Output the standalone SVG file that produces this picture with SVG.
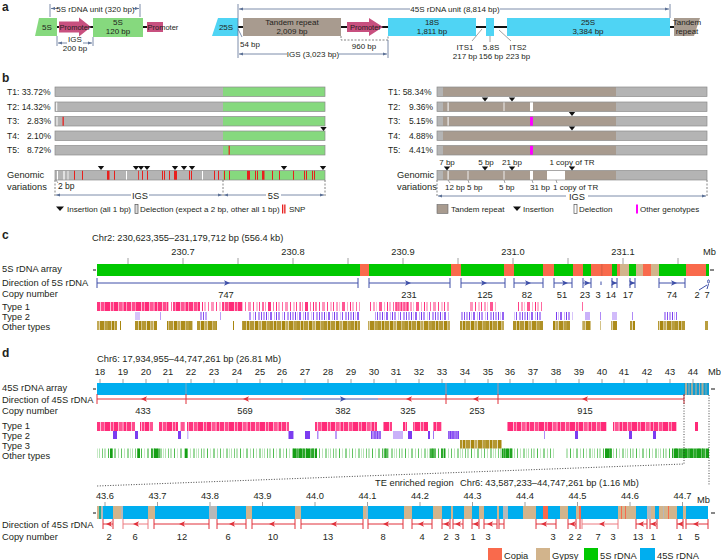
<svg xmlns="http://www.w3.org/2000/svg" width="721" height="560" viewBox="0 0 721 560">
<style>
text{font-family:"Liberation Sans",Arial,sans-serif;fill:#231f20}
.f9{font-size:9.3px}
.f85{font-size:8.5px}
.f8{font-size:8px}
.f75{font-size:7.5px}
.pl{font-size:12px;font-weight:bold}
.mid{text-anchor:middle}
.end{text-anchor:end}
.bk{stroke:#111;stroke-width:2}
.dim{stroke:#5b7095;stroke-width:0.8;fill:none}
.tk{stroke:#5b7095;stroke-width:0.8}
.dash{stroke:#666;stroke-width:0.8;stroke-dasharray:2,1.5;fill:none}
.dot{stroke:#333;stroke-width:0.9;stroke-dasharray:1,1.6;fill:none}
.bar{stroke:#8c8c8c;stroke-width:0.7}
.gray{fill:#b4b4b4}
.grn{fill:#86d97e}
.tr{fill:#a89b8f}
.cy{fill:#4fd4f4}
.pk{fill:#c8507f}
.snp{fill:#e8201e}
.wh{fill:#fff}
.mg{fill:#ff00ff}
.blu{stroke:#3e4fa8;stroke-width:1;fill:none}
.red{stroke:#e0303a;stroke-width:1;fill:none}
.ahb{fill:#3e4fa8}
.ahr{fill:#e0303a}
.c5{fill:#00c800}
.cop{fill:#f96a4c}
.gyp{fill:#d2b48c}
.c45{fill:#00aeef}
.gtk{stroke:#888;stroke-width:0.8}
</style>
<defs>
<marker id="ar" viewBox="0 0 6 6" refX="6" refY="3" markerWidth="5" markerHeight="5" orient="auto-start-reverse"><path d="M0,0.6 L6,3 L0,5.4 z" fill="#5b7095"/></marker>
<path id="tri" d="M-3.2,0 H3.2 L0,4 Z" fill="#111"/>
<path id="hr" d="M0,0 L-6,-2.8 L-4.5,0 L-6,2.8 Z"/>
<path id="hl" d="M0,0 L6,-2.8 L4.5,0 L6,2.8 Z"/>
<pattern id="pA" width="31" height="20" patternUnits="userSpaceOnUse"><g fill="#ff2a78"><rect width="2" height="20"/><rect x="2" width="1" height="20" fill-opacity=".45"/><rect x="3" width="4" height="20" fill-opacity=".95"/><rect x="7" width="1" height="20" fill-opacity=".3"/><rect x="8" width="3" height="20" fill-opacity=".85"/><rect x="11" width="1" height="20" fill-opacity=".55"/><rect x="12" width="5" height="20"/><rect x="17" width="1" height="20" fill-opacity=".3"/><rect x="18" width="2" height="20" fill-opacity=".9"/><rect x="20" width="1" height="20" fill-opacity=".5"/><rect x="21" width="4" height="20"/><rect x="25" width="1" height="20" fill-opacity=".35"/><rect x="26" width="3" height="20" fill-opacity=".8"/><rect x="29" width="2" height="20" fill-opacity=".6"/></g></pattern>
<pattern id="pB" width="37" height="20" patternUnits="userSpaceOnUse"><g fill="#ff2a78"><rect width="1" height="20" fill-opacity=".9"/><rect x="3" width="2" height="20" fill-opacity=".45"/><rect x="6" width="1" height="20" fill-opacity=".3"/><rect x="9" width="3" height="20" fill-opacity=".8"/><rect x="14" width="1" height="20" fill-opacity=".4"/><rect x="17" width="1" height="20"/><rect x="19" width="2" height="20" fill-opacity=".35"/><rect x="23" width="1" height="20" fill-opacity=".7"/><rect x="26" width="3" height="20" fill-opacity=".5"/><rect x="31" width="1" height="20" fill-opacity=".9"/><rect x="34" width="2" height="20" fill-opacity=".3"/></g></pattern>
<pattern id="uA" width="29" height="20" patternUnits="userSpaceOnUse"><g fill="#7b3cf0"><rect width="1" height="20" fill-opacity=".9"/><rect x="2" width="2" height="20" fill-opacity=".45"/><rect x="5" width="1" height="20"/><rect x="7" width="1" height="20" fill-opacity=".3"/><rect x="9" width="2" height="20" fill-opacity=".8"/><rect x="13" width="1" height="20" fill-opacity=".4"/><rect x="15" width="1" height="20"/><rect x="17" width="2" height="20" fill-opacity=".55"/><rect x="21" width="1" height="20" fill-opacity=".3"/><rect x="23" width="1" height="20" fill-opacity=".9"/><rect x="26" width="2" height="20" fill-opacity=".5"/></g></pattern>
<pattern id="uB" width="41" height="20" patternUnits="userSpaceOnUse"><g fill="#7b3cf0"><rect width="1" height="20" fill-opacity=".8"/><rect x="6" width="1" height="20" fill-opacity=".4"/><rect x="12" width="2" height="20" fill-opacity=".7"/><rect x="20" width="1" height="20" fill-opacity=".3"/><rect x="27" width="1" height="20" fill-opacity=".9"/><rect x="34" width="2" height="20" fill-opacity=".4"/></g></pattern>
<pattern id="oA" width="27" height="20" patternUnits="userSpaceOnUse"><g fill="#a8860f"><rect width="3" height="20" fill-opacity=".9"/><rect x="3" width="1" height="20" fill-opacity=".4"/><rect x="4" width="2" height="20"/><rect x="6" width="1" height="20" fill-opacity=".5"/><rect x="7" width="4" height="20" fill-opacity=".85"/><rect x="11" width="1" height="20" fill-opacity=".3"/><rect x="12" width="3" height="20"/><rect x="15" width="1" height="20" fill-opacity=".5"/><rect x="16" width="2" height="20" fill-opacity=".7"/><rect x="18" width="1" height="20" fill-opacity=".35"/><rect x="19" width="4" height="20" fill-opacity=".95"/><rect x="23" width="1" height="20" fill-opacity=".5"/><rect x="24" width="3" height="20" fill-opacity=".8"/></g></pattern>
<pattern id="gA" width="33" height="20" patternUnits="userSpaceOnUse"><g fill="#22aa22"><rect width="1" height="20" fill-opacity=".35"/><rect x="3" width="1" height="20" fill-opacity=".6"/><rect x="5" width="2" height="20" fill-opacity=".3"/><rect x="9" width="1" height="20" fill-opacity=".8"/><rect x="12" width="1" height="20" fill-opacity=".25"/><rect x="15" width="2" height="20" fill-opacity=".5"/><rect x="19" width="1" height="20" fill-opacity=".35"/><rect x="22" width="1" height="20" fill-opacity=".7"/><rect x="25" width="1" height="20" fill-opacity=".3"/><rect x="28" width="2" height="20" fill-opacity=".45"/><rect x="31" width="1" height="20" fill-opacity=".25"/></g></pattern>
<pattern id="gB" width="23" height="20" patternUnits="userSpaceOnUse"><g fill="#159f15"><rect width="3" height="20"/><rect x="3" width="1" height="20" fill-opacity=".5"/><rect x="4" width="2" height="20" fill-opacity=".9"/><rect x="6" width="1" height="20" fill-opacity=".4"/><rect x="7" width="4" height="20"/><rect x="11" width="1" height="20" fill-opacity=".6"/><rect x="12" width="3" height="20" fill-opacity=".85"/><rect x="15" width="1" height="20" fill-opacity=".3"/><rect x="16" width="4" height="20"/><rect x="20" width="3" height="20" fill-opacity=".7"/></g></pattern>
</defs>
<rect width="721" height="560" fill="#fff"/>

<!-- ============ PANEL A ============ -->
<g id="panel-a">
<text x="2" y="11" class="pl">a</text>
<g id="a-5s-unit">
<line x1="57" y1="27" x2="93" y2="27" class="bk"/>
<line x1="143" y1="27" x2="148" y2="27" class="bk"/>
<polygon points="39,18 57,18 57,36 35,36" class="grn"/>
<text x="47" y="30" class="f8 mid">5S</text>
<path d="M59,21.5 H79 V17.5 L91,27 L79,36.5 V32.5 H59 Z" class="pk"/>
<text x="59.5" y="30" class="f75">Promoter</text>
<rect x="93" y="18" width="50" height="19" class="grn"/>
<text x="118" y="25" class="f8 mid">5S</text>
<text x="118" y="33.5" class="f8 mid">120 bp</text>
<rect x="147" y="22" width="16" height="10" class="pk"/>
<text x="147.5" y="30" class="f75">Promoter</text>
<line x1="50" y1="4" x2="50" y2="17" class="tk"/>
<line x1="140" y1="4" x2="140" y2="17" class="tk"/>
<line x1="51" y1="8.5" x2="58" y2="8.5" class="dim" marker-start="url(#ar)"/>
<line x1="133" y1="8.5" x2="139" y2="8.5" class="dim" marker-end="url(#ar)"/>
<text x="95.5" y="11.5" class="f8 mid">5S rDNA unit (320 bp)</text>
<line x1="57" y1="36" x2="57" y2="46" class="tk"/>
<line x1="93" y1="37" x2="93" y2="46" class="tk"/>
<line x1="58" y1="43" x2="67" y2="43" class="dim" marker-start="url(#ar)"/>
<line x1="83" y1="43" x2="92" y2="43" class="dim" marker-end="url(#ar)"/>
<text x="75" y="42" class="f8 mid">IGS</text>
<text x="75" y="51" class="f8 mid">200 bp</text>
</g>
<g id="a-45s-unit">
<line x1="238" y1="27" x2="674" y2="27" class="bk"/>
<polygon points="218,18 238,18 238,36 212,36" class="cy"/>
<text x="226" y="30" class="f8 mid">25S</text>
<rect x="243" y="18" width="98" height="18" class="tr"/>
<text x="292" y="25" class="f8 mid">Tandem repeat</text>
<text x="292" y="33.5" class="f8 mid">2,009 bp</text>
<path d="M347,22 H369 V18 L383,27 L369,36 V32 H347 Z" class="pk"/>
<text x="350" y="30" class="f75">Promoter</text>
<rect x="388" y="18" width="88" height="18" class="cy"/>
<text x="432" y="25" class="f8 mid">18S</text>
<text x="432" y="33.5" class="f8 mid">1,811 bp</text>
<rect x="486" y="18" width="8" height="18" class="cy"/>
<rect x="507" y="18" width="163" height="18" class="cy"/>
<text x="588" y="25" class="f8 mid">25S</text>
<text x="588" y="33.5" class="f8 mid">3,384 bp</text>
<polygon points="674,18 700,18 694,36 674,36" class="tr"/>
<text x="687" y="25" class="f8 mid">Tandem</text>
<text x="687" y="33.5" class="f8 mid">repeat</text>
<line x1="238" y1="4" x2="238" y2="58" class="tk"/>
<line x1="670" y1="4" x2="670" y2="18" class="tk"/>
<line x1="239" y1="9" x2="410" y2="9" class="dim" marker-start="url(#ar)"/>
<line x1="500" y1="9" x2="669" y2="9" class="dim" marker-end="url(#ar)"/>
<text x="455" y="12" class="f8 mid">45S rDNA unit (8,814 bp)</text>
<line x1="238" y1="29" x2="242" y2="37" class="tk"/>
<text x="240" y="47" class="f8">54 bp</text>
<path d="M341,36 V40 H388 V36" class="dash"/>
<text x="364" y="49" class="f8 mid">960 bp</text>
<line x1="388" y1="40" x2="388" y2="58" class="tk"/>
<line x1="239" y1="54" x2="287" y2="54" class="dim" marker-start="url(#ar)"/>
<line x1="339" y1="54" x2="387" y2="54" class="dim" marker-end="url(#ar)"/>
<text x="313" y="57" class="f8 mid">IGS (3,023 bp)</text>
<line x1="482" y1="29" x2="472" y2="41" class="gtk"/>
<line x1="490" y1="36" x2="490" y2="42" class="gtk"/>
<line x1="499" y1="30" x2="511" y2="41" class="gtk"/>
<text x="465" y="50" class="f8 mid">ITS1</text>
<text x="465" y="59" class="f8 mid">217 bp</text>
<text x="491" y="50" class="f8 mid">5.8S</text>
<text x="491" y="59" class="f8 mid">156 bp</text>
<text x="518" y="50" class="f8 mid">ITS2</text>
<text x="518" y="59" class="f8 mid">223 bp</text>
</g>
</g>

<!-- ============ PANEL B ============ -->
<g id="panel-b">
<text x="2" y="82" class="pl">b</text>
<g id="b-left">
<g id="b-T1"><rect x="55" y="87" width="168" height="9.5" class="gray"/><rect x="223" y="87" width="102" height="9.5" class="grn"/><rect x="55" y="87" width="270" height="9.5" fill="none" class="bar"/>
<text x="7" y="94.5" class="f85">T1: 33.72%</text></g>
<g id="b-T2"><rect x="55" y="102" width="168" height="9.5" class="gray"/><rect x="223" y="102" width="102" height="9.5" class="grn"/><rect x="56.2" y="102" width="1" height="9.5" class="wh"/><rect x="55" y="102" width="270" height="9.5" fill="none" class="bar"/>
<text x="7" y="109.5" class="f85">T2: 14.32%</text></g>
<g id="b-T3"><rect x="55" y="116.5" width="168" height="9.5" class="gray"/><rect x="223" y="116.5" width="102" height="9.5" class="grn"/><rect x="56.5" y="116.5" width="1" height="9.5" class="wh"/><rect x="62.5" y="116.5" width="1.3" height="9.5" class="snp"/><rect x="55" y="116.5" width="270" height="9.5" fill="none" class="bar"/>
<text x="7" y="124" class="f85">T3:</text><text x="51" y="124" class="f85 end">2.83%</text></g>
<g id="b-T4"><rect x="55" y="131" width="168" height="9.5" class="gray"/><rect x="223" y="131" width="102" height="9.5" class="grn"/><rect x="55" y="131" width="270" height="9.5" fill="none" class="bar"/>
<use href="#tri" x="323.5" y="127"/>
<text x="7" y="138.5" class="f85">T4:</text><text x="51" y="138.5" class="f85 end">2.10%</text></g>
<g id="b-T5"><rect x="55" y="145.5" width="168" height="9.5" class="gray"/><rect x="223" y="145.5" width="102" height="9.5" class="grn"/><rect x="228.5" y="145.5" width="1.5" height="9.5" fill="#d6452a"/><rect x="55" y="145.5" width="270" height="9.5" fill="none" class="bar"/>
<text x="7" y="153" class="f85">T5:</text><text x="51" y="153" class="f85 end">8.72%</text></g>
<g id="b-gv-left">
<rect x="55" y="170.5" width="168" height="9.5" class="gray"/><rect x="223" y="170.5" width="102" height="9.5" class="grn"/>
<g class="wh"><rect x="57" y="170.5" width="1" height="9.5"/><rect x="63" y="170.5" width="2" height="9.5" fill-opacity=".6"/><rect x="67.5" y="170.5" width="1" height="9.5" fill-opacity=".8"/><rect x="126" y="170.5" width="1" height="9.5"/><rect x="202" y="170.5" width="1" height="9.5"/></g>
<g class="snp"><rect x="74" y="170.5" width="1" height="9.5"/><rect x="82" y="170.5" width="1" height="9.5"/><rect x="107" y="170.5" width="2.5" height="9.5"/><rect x="114" y="170.5" width="1" height="9.5"/><rect x="138" y="170.5" width="0.8" height="9.5"/><rect x="142" y="170.5" width="1" height="9.5"/><rect x="147" y="170.5" width="1" height="9.5"/><rect x="162" y="170.5" width="1" height="9.5"/><rect x="164" y="170.5" width="1" height="9.5"/><rect x="169" y="170.5" width="1" height="9.5"/><rect x="174" y="170.5" width="3" height="9.5"/><rect x="189" y="170.5" width="1" height="9.5"/><rect x="191" y="170.5" width="1" height="9.5"/><rect x="214" y="170.5" width="1" height="9.5"/><rect x="218" y="170.5" width="1" height="9.5"/><rect x="224" y="170.5" width="1" height="9.5"/><rect x="229" y="170.5" width="1" height="9.5"/><rect x="247" y="170.5" width="3" height="9.5"/><rect x="255" y="170.5" width="1" height="9.5"/><rect x="257" y="170.5" width="1" height="9.5"/><rect x="262" y="170.5" width="2.5" height="9.5"/><rect x="272" y="170.5" width="1" height="9.5"/><rect x="279" y="170.5" width="1" height="9.5"/><rect x="293" y="170.5" width="1" height="9.5"/><rect x="304" y="170.5" width="1" height="9.5"/><rect x="306" y="170.5" width="1" height="9.5"/><rect x="312" y="170.5" width="1" height="9.5"/><rect x="314" y="170.5" width="1" height="9.5"/></g>
<rect x="55" y="170.5" width="270" height="9.5" fill="none" class="bar"/>
<use href="#tri" x="101" y="166"/><use href="#tri" x="136" y="166"/><use href="#tri" x="141" y="166"/><use href="#tri" x="147" y="166"/><use href="#tri" x="175" y="166"/><use href="#tri" x="184" y="166"/><use href="#tri" x="192" y="166"/><use href="#tri" x="284" y="166"/><use href="#tri" x="323" y="166"/>
<text x="7" y="177.5" class="f9">Genomic</text>
<text x="7" y="189.5" class="f9">variations</text>
<line x1="56" y1="180" x2="58" y2="183" class="gtk"/>
<text x="58" y="189" class="f85">2 bp</text>
<line x1="55" y1="180" x2="55" y2="197" class="dash"/>
<line x1="223" y1="180" x2="223" y2="197" class="dash"/>
<line x1="325" y1="180" x2="325" y2="197" class="dash"/>
<line x1="56" y1="195" x2="131" y2="195" class="dim" marker-start="url(#ar)"/>
<line x1="149" y1="195" x2="222" y2="195" class="dim" marker-end="url(#ar)"/>
<text x="140" y="198.5" class="f9 mid">IGS</text>
<line x1="224" y1="195" x2="266" y2="195" class="dim" marker-start="url(#ar)"/>
<line x1="281" y1="195" x2="324" y2="195" class="dim" marker-end="url(#ar)"/>
<text x="273.5" y="198.5" class="f9 mid">5S</text>
</g>
<g id="b-legend-left">
<path d="M56,206.5 H64 L60,211 Z" fill="#111"/>
<text x="67" y="212" class="f8">Insertion (all 1 bp)</text>
<rect x="135" y="204.5" width="3" height="9" fill="#ddd" stroke="#555" stroke-width="0.7"/>
<text x="140" y="212" class="f8">Delection (expect a 2 bp, other all 1 bp)</text>
<rect x="282" y="204.5" width="1.3" height="9" class="snp"/><rect x="284.2" y="204.5" width="1.3" height="9" class="snp"/>
<text x="289" y="212" class="f8">SNP</text>
</g>
</g>
<g id="b-right">
<g id="b-R1"><rect x="437" y="87" width="6" height="9.5" class="gray"/><rect x="443" y="87" width="173" height="9.5" class="tr"/><rect x="616" y="87" width="91" height="9.5" class="gray"/><rect x="437" y="87" width="270" height="9.5" fill="none" class="bar"/>
<text x="388" y="94.5" class="f85">T1: 58.34%</text></g>
<g id="b-R2"><rect x="437" y="102" width="6" height="9.5" class="gray"/><rect x="443" y="102" width="173" height="9.5" class="tr"/><rect x="616" y="102" width="91" height="9.5" class="gray"/><rect x="447.5" y="102" width="1.2" height="9.5" fill="#eee"/><rect x="503.5" y="102" width="1" height="9.5" fill="#eee"/><rect x="530" y="102" width="3" height="9.5" class="wh"/><rect x="437" y="102" width="270" height="9.5" fill="none" class="bar"/>
<use href="#tri" x="485" y="97.5"/><use href="#tri" x="512" y="97.5"/>
<text x="388" y="109.5" class="f85">T2:</text><text x="433" y="109.5" class="f85 end">9.36%</text></g>
<g id="b-R3"><rect x="437" y="116.5" width="6" height="9.5" class="gray"/><rect x="443" y="116.5" width="173" height="9.5" class="tr"/><rect x="616" y="116.5" width="91" height="9.5" class="gray"/><rect x="447.5" y="116.5" width="1.2" height="9.5" fill="#eee"/><rect x="530" y="116.5" width="3" height="9.5" class="mg"/><rect x="437" y="116.5" width="270" height="9.5" fill="none" class="bar"/>
<use href="#tri" x="572" y="112"/>
<text x="388" y="124" class="f85">T3:</text><text x="433" y="124" class="f85 end">5.15%</text></g>
<g id="b-R4"><rect x="437" y="131" width="6" height="9.5" class="gray"/><rect x="443" y="131" width="173" height="9.5" class="tr"/><rect x="616" y="131" width="91" height="9.5" class="gray"/><rect x="437" y="131" width="270" height="9.5" fill="none" class="bar"/>
<use href="#tri" x="572" y="126.5"/>
<text x="388" y="138.5" class="f85">T4:</text><text x="433" y="138.5" class="f85 end">4.88%</text></g>
<g id="b-R5"><rect x="437" y="145.5" width="6" height="9.5" class="gray"/><rect x="443" y="145.5" width="173" height="9.5" class="tr"/><rect x="616" y="145.5" width="91" height="9.5" class="gray"/><rect x="530" y="145.5" width="3" height="9.5" class="mg"/><rect x="437" y="145.5" width="270" height="9.5" fill="none" class="bar"/>
<text x="388" y="153" class="f85">T5:</text><text x="433" y="153" class="f85 end">4.41%</text></g>
<g id="b-gv-right">
<rect x="437" y="170.5" width="6" height="9.5" class="gray"/><rect x="443" y="170.5" width="173" height="9.5" class="tr"/><rect x="616" y="170.5" width="91" height="9.5" class="gray"/>
<rect x="447.5" y="170.5" width="1.2" height="9.5" fill="#eee"/><rect x="467.5" y="170.5" width="1" height="9.5" fill="#eee"/><rect x="503.5" y="170.5" width="1" height="9.5" fill="#eee"/><rect x="530" y="170.5" width="3" height="9.5" class="wh"/><rect x="547" y="170.5" width="18" height="9.5" class="wh"/>
<rect x="437" y="170.5" width="270" height="9.5" fill="none" class="bar"/>
<use href="#tri" x="447" y="166.5"/><use href="#tri" x="485" y="166.5"/><use href="#tri" x="512" y="166.5"/><use href="#tri" x="572" y="166.5"/>
<text x="447" y="165" class="f8 mid">7 bp</text>
<text x="486" y="165" class="f8 mid">5 bp</text>
<text x="512" y="165" class="f8 mid">21 bp</text>
<text x="572" y="165" class="f8 mid">1 copy of TR</text>
<g class="gtk"><line x1="448" y1="180" x2="450" y2="183"/><line x1="468" y1="180" x2="469" y2="183"/><line x1="504" y1="180" x2="505" y2="183"/><line x1="532" y1="180" x2="533" y2="183"/><line x1="556" y1="180" x2="557" y2="183"/></g>
<text x="445" y="190" class="f8">12 bp</text>
<text x="467" y="190" class="f8">5 bp</text>
<text x="499" y="190" class="f8">5 bp</text>
<text x="530" y="190" class="f8">31 bp</text>
<text x="553" y="190" class="f8">1 copy of TR</text>
<text x="397" y="177.5" class="f9">Genomic</text>
<text x="397" y="189.5" class="f9">variations</text>
<line x1="437" y1="180" x2="437" y2="197" class="dash"/>
<line x1="707" y1="180" x2="707" y2="197" class="dash"/>
<line x1="438" y1="196" x2="566" y2="196" class="dim" marker-start="url(#ar)"/>
<line x1="588" y1="196" x2="706" y2="196" class="dim" marker-end="url(#ar)"/>
<text x="577" y="199.5" class="f9 mid">IGS</text>
</g>
<g id="b-legend-right">
<rect x="437" y="204.5" width="11" height="9" class="tr" stroke="#666" stroke-width="0.6"/>
<text x="451" y="212" class="f8">Tandem repeat</text>
<path d="M513,206.5 H521 L517,211 Z" fill="#111"/>
<text x="523" y="212" class="f8">Insertion</text>
<rect x="574" y="204.5" width="3" height="9" fill="#fff" stroke="#555" stroke-width="0.7"/>
<text x="579" y="212" class="f8">Delection</text>
<rect x="636" y="204.5" width="2" height="9" class="mg"/>
<text x="640" y="212" class="f8">Other genotypes</text>
</g>
</g>
</g>

<!-- ============ PANEL C ============ -->
<g id="panel-c">
<text x="2" y="239" class="pl">c</text>
<text x="92" y="240.5" class="f9">Chr2: 230,623,355–231,179,712 bp (556.4 kb)</text>
<g id="c-axis">
<g class="gtk"><line x1="128" y1="258" x2="128" y2="264"/><line x1="183" y1="258" x2="183" y2="264"/><line x1="238" y1="258" x2="238" y2="264"/><line x1="293" y1="258" x2="293" y2="264"/><line x1="348" y1="258" x2="348" y2="264"/><line x1="403" y1="258" x2="403" y2="264"/><line x1="458" y1="258" x2="458" y2="264"/><line x1="513" y1="258" x2="513" y2="264"/><line x1="568" y1="258" x2="568" y2="264"/><line x1="623" y1="258" x2="623" y2="264"/><line x1="678" y1="258" x2="678" y2="264"/></g>
<text x="183" y="255" class="f9 mid">230.7</text>
<text x="293" y="255" class="f9 mid">230.8</text>
<text x="403" y="255" class="f9 mid">230.9</text>
<text x="513" y="255" class="f9 mid">231.0</text>
<text x="623" y="255" class="f9 mid">231.1</text>
<text x="703" y="255" class="f9">Mb</text>
</g>
<g id="c-array">
<line x1="93" y1="270" x2="96" y2="270" stroke="#111" stroke-width="1"/>
<line x1="710" y1="270" x2="714" y2="270" stroke="#111" stroke-width="1"/>
<rect x="97" y="264" width="612" height="12" class="c5"/>
<rect x="360" y="264" width="9" height="12" class="cop"/>
<rect x="451" y="264" width="10" height="12" class="cop"/>
<rect x="504" y="264" width="10" height="12" class="cop"/>
<rect x="543" y="264" width="11" height="12" class="cop"/>
<rect x="573" y="264" width="10" height="12" class="cop"/>
<rect x="591" y="264" width="21" height="12" class="cop"/>
<rect x="601.5" y="264" width="0.8" height="12" fill="#c85a40"/>
<rect x="617" y="264" width="3" height="12" class="cop"/>
<rect x="620" y="264" width="9" height="12" class="gyp"/>
<rect x="636" y="264" width="7" height="12" class="gyp"/>
<rect x="643" y="264" width="8" height="12" class="cop"/>
<rect x="651" y="264" width="8" height="12" class="gyp"/>
<rect x="686" y="264" width="20" height="12" class="cop"/>
<text x="2" y="272" class="f9">5S rDNA array</text>
</g>
<g id="c-direction">
<text x="2" y="286" class="f9">Direction of 5S rDNA</text>
<g class="blu">
<line x1="97" y1="283" x2="358" y2="283"/><line x1="97" y1="278" x2="97" y2="288"/><line x1="358" y1="278" x2="358" y2="288"/>
<line x1="369" y1="283" x2="450" y2="283"/><line x1="369" y1="278" x2="369" y2="288"/><line x1="450" y1="278" x2="450" y2="288"/>
<line x1="461" y1="283" x2="505" y2="283"/><line x1="461" y1="278" x2="461" y2="288"/><line x1="505" y1="278" x2="505" y2="288"/>
<line x1="514" y1="283" x2="543" y2="283"/><line x1="514" y1="278" x2="514" y2="288"/><line x1="543" y1="278" x2="543" y2="288"/>
<line x1="554" y1="283" x2="572" y2="283"/><line x1="554" y1="278" x2="554" y2="288"/><line x1="572" y1="278" x2="572" y2="288"/>
<line x1="583" y1="283" x2="591" y2="283"/><line x1="583" y1="278" x2="583" y2="288"/><line x1="591" y1="278" x2="591" y2="288"/>
<line x1="601" y1="281.5" x2="601" y2="285"/>
<line x1="612" y1="283" x2="617" y2="283"/><line x1="612" y1="278" x2="612" y2="288"/><line x1="617" y1="278" x2="617" y2="288"/>
<line x1="630" y1="283" x2="635" y2="283"/><line x1="630" y1="278" x2="630" y2="288"/><line x1="635" y1="278" x2="635" y2="288"/>
<line x1="659" y1="283" x2="685" y2="283"/><line x1="659" y1="278" x2="659" y2="288"/><line x1="685" y1="278" x2="685" y2="288"/>
<line x1="699" y1="290" x2="707" y2="285"/>
<line x1="707" y1="289" x2="708.5" y2="284"/>
<ellipse cx="708.5" cy="281.5" rx="0.9" ry="1.6"/>
</g>
<g class="ahb"><use href="#hr" x="230" y="283"/><use href="#hr" x="411" y="283"/><use href="#hr" x="487" y="283"/><use href="#hr" x="531" y="283"/><use href="#hr" x="568" y="283"/><use href="#hr" x="590" y="283"/><use href="#hr" x="617" y="283"/><use href="#hr" x="635" y="283"/><use href="#hr" x="677" y="283"/></g>
</g>
<g id="c-copy">
<text x="2" y="297" class="f9">Copy number</text>
<text x="226" y="297.5" class="f9 mid">747</text>
<text x="409" y="297.5" class="f9 mid">231</text>
<text x="485" y="297.5" class="f9 mid">125</text>
<text x="527" y="297.5" class="f9 mid">82</text>
<text x="562" y="297.5" class="f9 mid">51</text>
<text x="585" y="297.5" class="f9 mid">23</text>
<text x="598" y="297.5" class="f9 mid">3</text>
<text x="611" y="297.5" class="f9 mid">14</text>
<text x="628" y="297.5" class="f9 mid">17</text>
<text x="672" y="297.5" class="f9 mid">74</text>
<text x="697" y="297.5" class="f9 mid">2</text>
<text x="707" y="297.5" class="f9 mid">7</text>
</g>
<g id="c-types">
<text x="2" y="309.5" class="f9">Type 1</text>
<text x="2" y="319.5" class="f9">Type 2</text>
<text x="2" y="330" class="f9">Other types</text>
<g>
<rect x="97" y="302" width="71" height="9" fill="url(#pA)"/>
<rect x="168" y="302" width="5" height="9" fill="url(#pB)"/>
<rect x="173" y="302" width="27" height="9" fill="url(#pA)"/>
<rect x="200" y="302" width="23" height="9" fill="url(#pB)"/>
<rect x="223" y="302" width="20" height="9" fill="url(#pA)"/>
<rect x="243" y="302" width="117" height="9" fill="url(#pB)"/>
<rect x="260" y="302" width="14" height="9" fill="url(#pB)"/>
<rect x="300" y="302" width="20" height="9" fill="url(#pB)"/>
<rect x="369" y="302" width="81" height="9" fill="url(#pB)"/>
<rect x="395" y="302" width="14" height="9" fill="url(#pA)" opacity=".7"/>
<rect x="470" y="302" width="27" height="9" fill="url(#pB)"/>
<rect x="517" y="302" width="26" height="9" fill="url(#pB)"/>
<rect x="582" y="302" width="1" height="9" fill="#ff2a78" fill-opacity=".7"/>
</g>
<g>
<rect x="135" y="312" width="5" height="8" fill="#7b3cf0" fill-opacity=".3"/>
<rect x="160" y="312" width="1" height="8" fill="#7b3cf0" fill-opacity=".5"/>
<rect x="199" y="312" width="9" height="8" fill="url(#uA)"/>
<rect x="220" y="312" width="3" height="8" fill="url(#uB)"/>
<rect x="220" y="312" width="1" height="8" fill="#7b3cf0" fill-opacity=".5"/>
<rect x="248" y="312" width="112" height="8" fill="url(#uA)"/>
<rect x="375" y="312" width="75" height="8" fill="url(#uA)"/>
<rect x="460" y="312" width="45" height="8" fill="url(#uA)"/>
<rect x="514" y="312" width="29" height="8" fill="url(#uA)"/>
<rect x="555" y="312" width="18" height="8" fill="url(#uA)"/>
<rect x="585" y="312" width="5" height="8" fill="#7b3cf0" fill-opacity=".4"/>
<rect x="600" y="312" width="1" height="8" fill="#7b3cf0" fill-opacity=".6"/>
<rect x="612" y="312" width="5" height="8" fill="#7b3cf0" fill-opacity=".35"/>
<rect x="632" y="312" width="1" height="8" fill="#7b3cf0" fill-opacity=".6"/>
<rect x="663" y="312" width="14" height="8" fill="url(#uA)"/>
</g>
<g>
<rect x="97" y="321" width="20" height="9" fill="url(#oA)"/>
<rect x="120" y="321" width="1" height="9" fill="#a8860f"/>
<rect x="135" y="321" width="22" height="9" fill="url(#oA)"/>
<rect x="167" y="321" width="26" height="9" fill="url(#oA)"/>
<rect x="197" y="321" width="20" height="9" fill="url(#oA)"/>
<rect x="233" y="321" width="1" height="9" fill="#a8860f"/>
<rect x="242" y="321" width="118" height="9" fill="url(#oA)"/>
<rect x="368" y="321" width="82" height="9" fill="url(#oA)"/>
<rect x="460" y="321" width="44" height="9" fill="url(#oA)"/>
<rect x="513" y="321" width="30" height="9" fill="url(#oA)"/>
<rect x="553" y="321" width="17" height="9" fill="url(#oA)"/>
<rect x="582" y="321" width="9" height="9" fill="url(#oA)"/>
<rect x="600" y="321" width="1" height="9" fill="#a8860f" fill-opacity=".5"/>
<rect x="611" y="321" width="6" height="9" fill="url(#oA)"/>
<rect x="630" y="321" width="5" height="9" fill="url(#oA)"/>
<rect x="658" y="321" width="27" height="9" fill="url(#oA)"/>
<rect x="705" y="321" width="3" height="9" fill="#a8860f" fill-opacity=".8"/>
</g>
</g>
</g>

<!-- ============ PANEL D ============ -->
<g id="panel-d">
<text x="2" y="357" class="pl">d</text>
<text x="97" y="361.5" class="f9">Chr6: 17,934,955–44,747,261 bp  (26.81 Mb)</text>
<g id="d-axis">
<g class="gtk"><line x1="100" y1="379" x2="100" y2="383"/><line x1="123" y1="379" x2="123" y2="383"/><line x1="146" y1="379" x2="146" y2="383"/><line x1="168" y1="379" x2="168" y2="383"/><line x1="191" y1="379" x2="191" y2="383"/><line x1="214" y1="379" x2="214" y2="383"/><line x1="237" y1="379" x2="237" y2="383"/><line x1="260" y1="379" x2="260" y2="383"/><line x1="282" y1="379" x2="282" y2="383"/><line x1="305" y1="379" x2="305" y2="383"/><line x1="328" y1="379" x2="328" y2="383"/><line x1="351" y1="379" x2="351" y2="383"/><line x1="374" y1="379" x2="374" y2="383"/><line x1="396" y1="379" x2="396" y2="383"/><line x1="419" y1="379" x2="419" y2="383"/><line x1="442" y1="379" x2="442" y2="383"/><line x1="465" y1="379" x2="465" y2="383"/><line x1="488" y1="379" x2="488" y2="383"/><line x1="510" y1="379" x2="510" y2="383"/><line x1="533" y1="379" x2="533" y2="383"/><line x1="556" y1="379" x2="556" y2="383"/><line x1="579" y1="379" x2="579" y2="383"/><line x1="602" y1="379" x2="602" y2="383"/><line x1="624" y1="379" x2="624" y2="383"/><line x1="647" y1="379" x2="647" y2="383"/><line x1="670" y1="379" x2="670" y2="383"/><line x1="693" y1="379" x2="693" y2="383"/></g>
<g class="f9 mid">
<text x="100" y="375">18</text><text x="123" y="375">19</text><text x="146" y="375">20</text><text x="168" y="375">21</text><text x="191" y="375">22</text><text x="214" y="375">23</text><text x="237" y="375">24</text><text x="260" y="375">25</text><text x="282" y="375">26</text><text x="305" y="375">27</text><text x="328" y="375">28</text><text x="351" y="375">29</text><text x="374" y="375">30</text><text x="396" y="375">31</text><text x="419" y="375">32</text><text x="442" y="375">33</text><text x="465" y="375">34</text><text x="488" y="375">35</text><text x="510" y="375">36</text><text x="533" y="375">37</text><text x="556" y="375">38</text><text x="579" y="375">39</text><text x="602" y="375">40</text><text x="624" y="375">41</text><text x="647" y="375">42</text><text x="670" y="375">43</text><text x="693" y="375">44</text>
</g>
<text x="708" y="375" class="f9">Mb</text>
</g>
<g id="d-array">
<text x="2" y="390.5" class="f9">45S rDNA array</text>
<line x1="93" y1="389" x2="96" y2="389" stroke="#111" stroke-width="1"/>
<line x1="711" y1="389" x2="715" y2="389" stroke="#111" stroke-width="1"/>
<rect x="97" y="383" width="612" height="12" class="c45"/>
<rect x="684" y="383" width="25" height="12" fill="#2a7fa0" fill-opacity=".35"/>
<g><rect x="685" y="383" width="2" height="12" class="gyp" opacity=".8"/><rect x="688.5" y="383" width="1" height="12" fill="#aaa"/><rect x="691" y="383" width="2" height="12" class="gyp" opacity=".7"/><rect x="695.5" y="383" width="1" height="12" class="gyp"/><rect x="699" y="383" width="1" height="12" fill="#aaa"/><rect x="701.5" y="383" width="2" height="12" class="gyp" opacity=".8"/><rect x="705.5" y="383" width="1" height="12" fill="#8aa"/></g>
<line x1="186" y1="383" x2="186" y2="395" stroke="#9ab" stroke-width="0.8"/>
<line x1="446" y1="383" x2="446" y2="395" stroke="#e88" stroke-width="0.8"/>
<line x1="498" y1="383" x2="498" y2="395" stroke="#e88" stroke-width="0.8"/>
</g>
<g id="d-direction">
<text x="2" y="402.5" class="f9">Direction of 45S rDNA</text>
<line x1="97" y1="399" x2="302" y2="399" class="red"/>
<line x1="302" y1="399" x2="378" y2="399" class="blu"/>
<line x1="378" y1="399" x2="684" y2="399" class="red"/>
<g class="red"><line x1="97" y1="394" x2="97" y2="404"/><line x1="186" y1="394" x2="186" y2="404"/><line x1="446" y1="394" x2="446" y2="404"/><line x1="498" y1="394" x2="498" y2="404"/><line x1="684" y1="394" x2="684" y2="404"/></g>
<g class="ahr"><use href="#hl" x="141" y="399"/><use href="#hl" x="243" y="399"/><use href="#hl" x="406" y="399"/><use href="#hl" x="473" y="399"/><use href="#hl" x="582" y="399"/></g>
<use href="#hr" x="346" y="399" class="ahb"/>
</g>
<g id="d-copy">
<text x="2" y="414" class="f9">Copy number</text>
<text x="143" y="414" class="f9 mid">433</text>
<text x="245" y="414" class="f9 mid">569</text>
<text x="343" y="414" class="f9 mid">382</text>
<text x="408" y="414" class="f9 mid">325</text>
<text x="477" y="414" class="f9 mid">253</text>
<text x="585" y="414" class="f9 mid">915</text>
</g>
<g id="d-types">
<text x="2" y="428.5" class="f9">Type 1</text>
<text x="2" y="438.5" class="f9">Type 2</text>
<text x="2" y="448.5" class="f9">Type 3</text>
<text x="2" y="458.5" class="f9">Other types</text>
<g fill="url(#pA)">
<rect x="97" y="422" width="38" height="9"/><rect x="140" y="422" width="13" height="9"/><rect x="159" y="422" width="19" height="9"/><rect x="180" y="422" width="5" height="9"/><rect x="187" y="422" width="102" height="9"/><rect x="315" y="422" width="62" height="9"/><rect x="383" y="422" width="9" height="9"/><rect x="403" y="422" width="4" height="9"/><rect x="413" y="422" width="15" height="9"/><rect x="433" y="422" width="9" height="9"/><rect x="507" y="422" width="100" height="9"/><rect x="613" y="422" width="64" height="9"/><rect x="695" y="422" width="3" height="9"/>
</g>
<g fill="#7b3cf0">
<rect x="113" y="431" width="4" height="8"/><rect x="135" y="431" width="3" height="8"/><rect x="178" y="431" width="3" height="8"/><rect x="187" y="431" width="1.5" height="8" fill-opacity=".35"/><rect x="288" y="431" width="6" height="8" fill="url(#uA)"/><rect x="289" y="431" width="4" height="8"/><rect x="305" y="431" width="5" height="8"/><rect x="317" y="431" width="1.5" height="8" fill-opacity=".6"/><rect x="335" y="431" width="2" height="8" fill-opacity=".5"/><rect x="370" y="431" width="12" height="8" fill="url(#uA)"/><rect x="371" y="431" width="10" height="8" fill-opacity=".6"/><rect x="393" y="431" width="10" height="8" fill-opacity=".4"/><rect x="408" y="431" width="4" height="8"/><rect x="428" y="431" width="2" height="8"/><rect x="433" y="431" width="1" height="8" fill-opacity=".7"/><rect x="447" y="431" width="13" height="8" fill="url(#uA)"/><rect x="448" y="431" width="11" height="8" fill-opacity=".7"/><rect x="544" y="431" width="1" height="8" fill-opacity=".6"/><rect x="575" y="431" width="3" height="8"/><rect x="629" y="431" width="3" height="8"/><rect x="653" y="431" width="3" height="8"/>
</g>
<rect x="460" y="440" width="42" height="8.5" fill="url(#oA)"/>
<g>
<rect x="97" y="448.5" width="458" height="9.5" fill="url(#gA)"/>
<rect x="565" y="448.5" width="144" height="9.5" fill="url(#gA)"/>
<rect x="110" y="448.5" width="3" height="9.5" fill="url(#gB)"/>
<rect x="137" y="448.5" width="3" height="9.5" fill="url(#gB)"/>
<rect x="151" y="448.5" width="9" height="9.5" fill="url(#gB)"/>
<rect x="185" y="448.5" width="2" height="9.5" fill="#159f15"/>
<rect x="293" y="448.5" width="24" height="9.5" fill="url(#gB)"/>
<rect x="382" y="448.5" width="6" height="9.5" fill="url(#gB)" opacity=".7"/>
<rect x="430" y="448.5" width="6" height="9.5" fill="url(#gB)" opacity=".8"/>
<rect x="441" y="448.5" width="4" height="9.5" fill="url(#gB)"/>
<rect x="502" y="448.5" width="11" height="9.5" fill="url(#gB)"/>
<rect x="605" y="448.5" width="7" height="9.5" fill="url(#gB)"/>
<rect x="672" y="448.5" width="37" height="9.5" fill="url(#gB)"/>
</g>
</g>
<g id="d-zoom-lines">
<polyline points="684,395 684,464 97,486" class="dot"/>
<line x1="709" y1="395" x2="709" y2="486" class="dot"/>
</g>
</g>

<!-- ============ TE REGION ============ -->
<g id="panel-te">
<text x="375" y="486" class="f9">TE enriched region</text>
<text x="460" y="486" class="f9">Chr6: 43,587,233–44,747,261 bp  (1.16 Mb)</text>
<g id="te-axis">
<g class="gtk"><line x1="105" y1="502" x2="105" y2="506"/><line x1="157.5" y1="502" x2="157.5" y2="506"/><line x1="210" y1="502" x2="210" y2="506"/><line x1="262.5" y1="502" x2="262.5" y2="506"/><line x1="315" y1="502" x2="315" y2="506"/><line x1="367.5" y1="502" x2="367.5" y2="506"/><line x1="420" y1="502" x2="420" y2="506"/><line x1="472.5" y1="502" x2="472.5" y2="506"/><line x1="525" y1="502" x2="525" y2="506"/><line x1="577.5" y1="502" x2="577.5" y2="506"/><line x1="630" y1="502" x2="630" y2="506"/><line x1="682.5" y1="502" x2="682.5" y2="506"/></g>
<g class="f9 mid"><text x="105" y="499">43.6</text><text x="157.5" y="499">43.7</text><text x="210" y="499">43.8</text><text x="262.5" y="499">43.9</text><text x="315" y="499">44.0</text><text x="367.5" y="499">44.1</text><text x="420" y="499">44.2</text><text x="472.5" y="499">44.3</text><text x="525" y="499">44.4</text><text x="577.5" y="499">44.5</text><text x="630" y="499">44.6</text><text x="682.5" y="499">44.7</text></g>
<text x="697" y="503" class="f9">Mb</text>
</g>
<g id="te-array">
<line x1="93" y1="513" x2="96" y2="513" stroke="#111" stroke-width="1"/>
<line x1="711" y1="513" x2="715" y2="513" stroke="#111" stroke-width="1"/>
<rect x="97" y="506" width="611" height="13" class="c45"/>
<g class="gyp">
<rect x="97" y="506" width="2" height="13"/><rect x="113" y="506" width="8" height="13"/><rect x="148" y="506" width="7" height="13"/><rect x="246" y="506" width="6" height="13"/><rect x="295" y="506" width="6" height="13"/><rect x="363" y="506" width="3" height="13"/><rect x="404" y="506" width="8" height="13"/><rect x="433" y="506" width="9" height="13"/><rect x="451" y="506" width="2" height="13"/><rect x="464" y="506" width="8" height="13"/><rect x="479" y="506" width="5" height="13"/><rect x="497" y="506" width="2" height="13"/><rect x="523" y="506" width="13" height="13"/><rect x="560" y="506" width="8" height="13"/><rect x="576" y="506" width="3" height="13"/><rect x="618" y="506" width="18" height="13"/><rect x="651" y="506" width="4" height="13"/><rect x="659" y="506" width="18" height="13"/><rect x="683" y="506" width="3" height="13"/>
</g>
<g fill="#b8b8b8">
<rect x="101" y="506" width="2" height="13"/><rect x="121" y="506" width="2" height="13"/><rect x="209" y="506" width="8" height="13"/><rect x="366" y="506" width="2" height="13"/><rect x="503" y="506" width="5" height="13"/><rect x="647" y="506" width="4" height="13"/><rect x="663" y="506" width="1" height="13"/>
</g>
<rect x="99.5" y="506" width="1" height="13" fill="#3caa3c"/>
<g class="cop">
<rect x="543" y="506" width="5" height="13"/><rect x="579" y="506" width="2" height="13"/><rect x="621" y="506" width="1" height="13"/><rect x="625" y="506" width="1" height="13"/><rect x="668" y="506" width="1" height="13"/>
</g>
</g>
<g id="te-direction">
<text x="2" y="528" class="f9">Direction of 45S rDNA</text>
<g class="red">
<path d="M103,524 H113 M103,519 V529 M113,519 V529"/>
<path d="M123,524 H148 M123,519 V529 M148,519 V529" stroke="#ec7a80"/>
<path d="M154,524 H209 M154,519 V529 M209,519 V529"/>
<path d="M217,524 H246 M217,519 V529 M246,519 V529"/>
<path d="M252,524 H295 M252,519 V529 M295,519 V529"/>
<path d="M301,524 H363 M301,519 V529 M363,519 V529"/>
<path d="M368,524 H403 M368,519 V529 M403,519 V529"/>
<path d="M412,524 H432 M412,519 V529 M432,519 V529"/>
<path d="M442,524 H450 M442,519 V529 M450,519 V529"/>
<path d="M453,524 H463 M453,519 V529 M463,519 V529"/>
<path d="M472,524 H479 M472,519 V529 M479,519 V529"/>
<path d="M484,524 H497 M484,519 V529 M497,519 V529 M499,519 V529 M504,519 V529 M499,524 H504"/>
<path d="M536,524 H556 M536,519 V529 M556,519 V529"/>
<path d="M568,524 H576 M568,519 V529 M576,519 V529 M580,519 V529"/>
<path d="M582,524 H618 M582,519 V529 M618,519 V529" stroke="#ec7a80"/>
<path d="M636,524 H647 M636,519 V529 M647,519 V529"/>
<path d="M650,524 H657 M650,519 V529 M657,519 V529"/>
<path d="M677,524 H683 M677,519 V529 M683,519 V529"/>
<path d="M686,524 H708 M686,519 V529 M708,519 V529"/>
</g>
<g class="ahr">
<use href="#hl" x="106" y="524"/><use href="#hl" x="133" y="524"/><use href="#hl" x="179" y="524"/><use href="#hl" x="229" y="524"/><use href="#hl" x="269" y="524"/><use href="#hl" x="331" y="524"/><use href="#hl" x="383" y="524"/><use href="#hl" x="418" y="524"/><use href="#hl" x="443.5" y="524"/><use href="#hl" x="455" y="524"/><use href="#hl" x="473" y="524"/><use href="#hl" x="487" y="524"/><use href="#hl" x="541" y="524"/><use href="#hl" x="569.5" y="524"/><use href="#hl" x="599" y="524"/><use href="#hl" x="638" y="524"/><use href="#hl" x="650.5" y="524"/><use href="#hl" x="677.5" y="524"/><use href="#hl" x="693" y="524"/>
</g>
</g>
<g id="te-copy">
<text x="2" y="539.5" class="f9">Copy number</text>
<g class="f9 mid">
<text x="109" y="540">2</text><text x="135" y="540">6</text><text x="182" y="540">12</text><text x="228" y="540">6</text><text x="273" y="540">10</text><text x="328" y="540">13</text><text x="383" y="540">8</text><text x="422" y="540">4</text><text x="446" y="540">2</text><text x="457" y="540">3</text><text x="473" y="540">1</text><text x="488" y="540">3</text><text x="553" y="540">3</text><text x="571" y="540">2</text><text x="579" y="540">2</text><text x="598" y="540">7</text><text x="613" y="540">3</text><text x="638" y="540">13</text><text x="653" y="540">1</text><text x="680" y="540">1</text><text x="697" y="540">5</text>
</g>
</g>
<g id="legend">
<rect x="488" y="548" width="14" height="12" class="cop"/>
<text x="504" y="558.5" class="f9">Copia</text>
<rect x="536" y="548" width="14" height="12" class="gyp"/>
<text x="552" y="558.5" class="f9">Gypsy</text>
<rect x="584" y="548" width="14" height="12" class="c5"/>
<text x="600" y="558.5" class="f9">5S rDNA</text>
<rect x="640" y="548" width="15" height="12" class="c45"/>
<text x="657" y="558.5" class="f9">45S rDNA</text>
</g>
</g>
</svg>
